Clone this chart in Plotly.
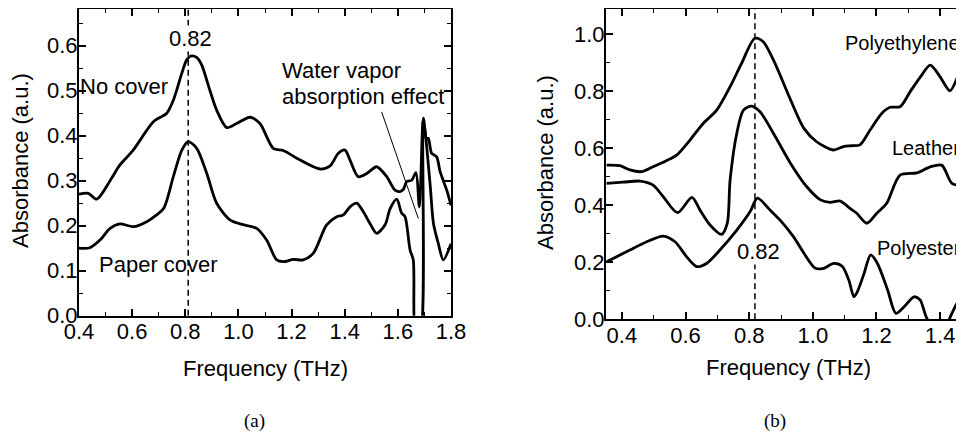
import plotly.graph_objects as go

# ---------- Panel (a) data ----------
nocover_f = [0.40, 0.435, 0.467, 0.517, 0.554, 0.604, 0.68, 0.73, 0.755, 0.787, 0.805, 0.82, 0.843, 0.862,
             0.893, 0.918, 0.956, 0.993, 1.044, 1.081, 1.131, 1.169, 1.232, 1.307, 1.345, 1.376, 1.401,
             1.42, 1.451, 1.483, 1.52, 1.558, 1.589, 1.608, 1.621, 1.633, 1.652, 1.668, 1.681, 1.696,
             1.708, 1.715, 1.727, 1.746, 1.759, 1.784, 1.80]
nocover_a = [0.270, 0.272, 0.259, 0.300, 0.335, 0.368, 0.431, 0.450, 0.479, 0.539, 0.568, 0.577, 0.574, 0.557,
             0.500, 0.457, 0.418, 0.427, 0.441, 0.427, 0.372, 0.367, 0.346, 0.326, 0.333, 0.361, 0.368,
             0.346, 0.309, 0.316, 0.331, 0.309, 0.279, 0.276, 0.281, 0.298, 0.301, 0.318, 0.242, 0.439,
             0.390, 0.394, 0.361, 0.353, 0.320, 0.279, 0.245]

paper_f = [0.40, 0.441, 0.479, 0.517, 0.554, 0.604, 0.655, 0.692, 0.72, 0.755, 0.787, 0.811, 0.843, 0.881,
           0.918, 0.968, 1.006, 1.069, 1.106, 1.144, 1.169, 1.207, 1.244, 1.282, 1.332, 1.37, 1.395,
           1.42, 1.445, 1.47, 1.495, 1.52, 1.552, 1.571, 1.596, 1.614, 1.627, 1.646, 1.658, 1.668,
           1.683, 1.696, 1.721, 1.734, 1.752, 1.771, 1.80]
paper_a = [0.150, 0.151, 0.168, 0.194, 0.204, 0.198, 0.209, 0.224, 0.240, 0.309, 0.368, 0.387, 0.372, 0.316,
           0.250, 0.213, 0.204, 0.194, 0.168, 0.124, 0.120, 0.125, 0.124, 0.139, 0.202, 0.220, 0.224,
           0.242, 0.250, 0.231, 0.205, 0.183, 0.202, 0.238, 0.259, 0.228, 0.220, 0.146, 0.124, -0.05,
           -0.05, 0.435, 0.294, 0.205, 0.161, 0.124, 0.160]

# ---------- Panel (b) data ----------
pe_f = [0.352, 0.394, 0.425, 0.462, 0.498, 0.541, 0.572, 0.614, 0.656, 0.698, 0.74, 0.776, 0.818, 0.844,
        0.876, 0.93, 0.972, 1.012, 1.064, 1.096, 1.122, 1.148, 1.18, 1.217, 1.243, 1.274, 1.306, 1.342,
        1.369, 1.40, 1.431, 1.463, 1.475]
pe_a = [0.541, 0.539, 0.524, 0.518, 0.535, 0.557, 0.576, 0.629, 0.688, 0.734, 0.816, 0.898, 0.986, 0.974,
        0.910, 0.770, 0.670, 0.623, 0.594, 0.606, 0.609, 0.612, 0.664, 0.723, 0.744, 0.746, 0.799, 0.857,
        0.892, 0.851, 0.802, 0.875, 0.916]

leather_f = [0.352, 0.404, 0.457, 0.498, 0.53, 0.575, 0.62, 0.645, 0.677, 0.713, 0.731, 0.74, 0.761, 0.782,
             0.808, 0.834, 0.876, 0.93, 0.981, 1.024, 1.054, 1.086, 1.117, 1.138, 1.17, 1.201, 1.232,
             1.274, 1.327, 1.369, 1.405, 1.437, 1.474]
leather_a = [0.477, 0.481, 0.485, 0.471, 0.430, 0.374, 0.428, 0.384, 0.331, 0.298, 0.337, 0.489, 0.653, 0.734,
             0.748, 0.728, 0.653, 0.547, 0.465, 0.419, 0.410, 0.415, 0.389, 0.372, 0.337, 0.372, 0.407,
             0.506, 0.514, 0.535, 0.541, 0.477, 0.469]

pes_f = [0.352, 0.425, 0.478, 0.53, 0.567, 0.603, 0.635, 0.666, 0.708, 0.761, 0.803, 0.826, 0.865, 0.897,
         0.939, 0.972, 1.008, 1.034, 1.066, 1.092, 1.113, 1.129, 1.14, 1.161, 1.182, 1.203, 1.235,
         1.261, 1.287, 1.318, 1.337, 1.358, 1.40, 1.437, 1.458, 1.475]
pes_a = [0.202, 0.243, 0.272, 0.292, 0.272, 0.220, 0.185, 0.196, 0.243, 0.313, 0.378, 0.425, 0.384, 0.348,
         0.290, 0.232, 0.179, 0.179, 0.196, 0.186, 0.138, 0.079, 0.097, 0.161, 0.226, 0.196, 0.103,
         0.021, 0.044, 0.079, 0.068, 0.004, -0.06, 0.021, 0.062, 0.044]

# The page body has an 8px default margin, so the figure is sized to fill the rest of the window.
OFF = 8
W, H = 964 - OFF, 435 - OFF
FONT = "Liberation Sans, Arial, sans-serif"
FS = 22

def px_x(p):
    return (p - OFF) / W

def px_y(p):
    return 1 - (p - OFF) / H

fig = go.Figure()
line = dict(color="black", width=2.8)
fig.add_trace(go.Scatter(x=nocover_f, y=nocover_a, mode="lines", line=dict(**line, shape="spline", smoothing=0.8),
                         xaxis="x", yaxis="y", showlegend=False))
fig.add_trace(go.Scatter(x=paper_f, y=paper_a, mode="lines", line=dict(**line, shape="spline", smoothing=0.8),
                         xaxis="x", yaxis="y", showlegend=False))
for xf, ya in [(pe_f, pe_a), (leather_f, leather_a), (pes_f, pes_a)]:
    fig.add_trace(go.Scatter(x=xf, y=ya, mode="lines", line=dict(**line, shape="spline", smoothing=0.8),
                             xaxis="x2", yaxis="y2", showlegend=False))

ax_common = dict(showline=True, linewidth=2, linecolor="black", ticks="inside", ticklen=7, tickwidth=1.5,
                 tickcolor="black", showgrid=False, zeroline=False, tickformat=".1f", automargin=False,
                 ticklabelstandoff=-5,
                 tickfont=dict(family=FONT, size=FS, color="black"))
minor_common = dict(ticks="inside", ticklen=4, tickcolor="black", tickwidth=1.2)

Y1MAX, Y2MAX = 0.6816, 1.0888

fig.update_layout(
    template="none",
    width=W, height=H, margin=dict(l=0, r=0, t=0, b=0, pad=0), autosize=False,
    paper_bgcolor="white", plot_bgcolor="white",
    font=dict(family=FONT, size=FS, color="black"),
    xaxis=dict(**ax_common, domain=[px_x(79), px_x(451)], range=[0.4, 1.8], dtick=0.2, tick0=0.4,
               mirror="allticks", anchor="y", minor=dict(dtick=0.1, **minor_common)),
    yaxis=dict(**ax_common, domain=[px_y(315.7), px_y(9)], range=[0, Y1MAX], dtick=0.1,
               mirror="allticks", anchor="x", minor=dict(dtick=0.05, **minor_common)),
    xaxis2=dict(**ax_common, domain=[px_x(606), 1.0], range=[0.35, 1.475], dtick=0.2, tick0=0.4,
                mirror="allticks", anchor="y2", minor=dict(dtick=0.1, **minor_common)),
    yaxis2=dict(**ax_common, domain=[px_y(319.3), px_y(9)], range=[0, Y2MAX], dtick=0.2,
                mirror=False, anchor="x2", minor=dict(dtick=0.1, **minor_common)),
)

# dashed peak markers
fig.add_shape(type="line", xref="x", yref="y", x0=0.811, x1=0.811, y0=0, y1=Y1MAX,
              line=dict(color="black", width=1.5, dash="6px,4px"))
fig.add_shape(type="line", xref="x2", yref="y2", x0=0.818, x1=0.818, y0=0, y1=Y2MAX,
              line=dict(color="black", width=1.5, dash="6px,4px"))
# leader line for water vapor note
fig.add_shape(type="line", xref="x", yref="y", x0=1.539, y0=0.453, x1=1.677, y1=0.216,
              line=dict(color="black", width=1))

def note(text, x, y, xref, yref, xanchor="center", bg=None, size=FS, family=FONT, angle=0):
    kw = dict(text=text, x=x, y=y, xref=xref, yref=yref, showarrow=False, xanchor=xanchor,
              yanchor="middle", font=dict(family=family, size=size, color="black"), textangle=angle)
    if bg:
        kw["bgcolor"] = bg
        kw["borderpad"] = 0
    fig.add_annotation(**kw)

note("0.82", 0.818, 0.617, "x", "y", bg="white")
note("No cover", 0.742, 0.510, "x", "y", xanchor="right")
note("Paper cover", 0.468, 0.113, "x", "y", xanchor="left")
note("Water vapor", 1.155, 0.544, "x", "y", xanchor="left")
note("absorption effect", 1.155, 0.487, "x", "y", xanchor="left")

note("0.82", 0.828, 0.237, "x2", "y2", bg="white")
note("Polyethylene", 1.095, 0.97, "x2", "y2", xanchor="left", size=20)
note("Leather", 1.243, 0.601, "x2", "y2", xanchor="left", size=20)
note("Polyester", 1.195, 0.25, "x2", "y2", xanchor="left", size=20)

# axis titles
note("Frequency (THz)", px_x(265), px_y(368), "paper", "paper")
note("Frequency (THz)", px_x(788), px_y(367), "paper", "paper")
note("Absorbance (a.u.)", px_x(21), px_y(161), "paper", "paper", angle=-90)
note("Absorbance (a.u.)", px_x(546), px_y(163), "paper", "paper", angle=-90)

# captions
note("(a)", px_x(254.5), px_y(421), "paper", "paper", size=19, family="Liberation Serif, Times New Roman, serif")
note("(b)", px_x(775), px_y(421), "paper", "paper", size=19, family="Liberation Serif, Times New Roman, serif")

fig.write_html("out.html")
